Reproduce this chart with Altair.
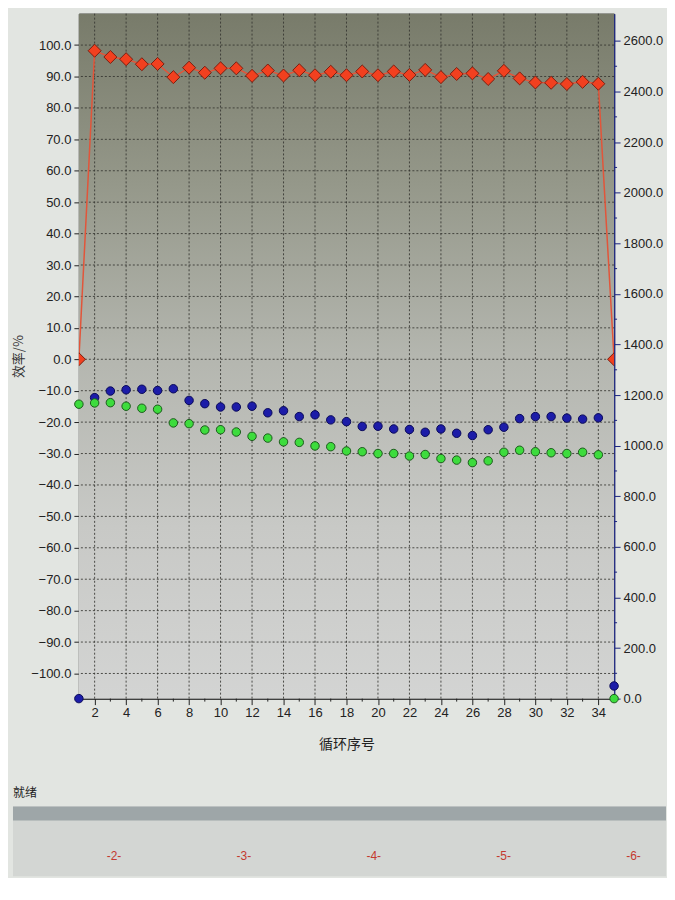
import altair as alt
import pandas as pd

# ---------------- data ----------------
cycles = list(range(1, 36))
efficiency = [0.0, 98.2, 96.2, 95.5, 93.9, 94.0, 89.8, 92.8, 91.2, 92.6,
              92.6, 90.2, 91.9, 90.3, 92.0, 90.4, 91.5, 90.4, 91.6, 90.4,
              91.6, 90.5, 92.1, 89.8, 90.8, 91.0, 89.2, 91.8, 89.4, 88.1,
              88.0, 87.6, 88.3, 87.7, 0.0]
charge_cap = [0, 1190, 1216, 1221, 1223, 1218, 1225, 1179, 1166, 1153,
              1153, 1156, 1130, 1138, 1115, 1122, 1102, 1095, 1076, 1077,
              1066, 1064, 1053, 1066, 1049, 1040, 1063, 1073, 1107, 1115,
              1115, 1109, 1105, 1110, 50]
discharge_cap = [1164, 1169, 1170, 1156, 1148, 1144, 1090, 1087, 1062, 1063,
                 1054, 1037, 1030, 1015, 1013, 999, 996, 979, 976, 969,
                 969, 959, 965, 949, 943, 933, 940, 974, 982, 976,
                 972, 969, 974, 964, 0]

x_labels = list(range(2, 35, 2))          # labelled x ticks / vertical grid
x_minor = list(range(3, 35, 2))           # small unlabelled x ticks
eff_ticks = list(range(-100, 101, 10))    # left axis ticks / horizontal grid
cap_ticks = list(range(0, 2601, 200))     # right axis labelled ticks
cap_minor = list(range(100, 2601, 200))   # right axis small ticks

tabs = ["-2-", "-3-", "-4-", "-5-", "-6-"]
tab_no = [2, 3, 4, 5, 6]
status_text = "就绪"

# ---------------- tables ----------------
df = pd.DataFrame({"cycle": cycles, "eff": efficiency,
                   "charge": charge_cap, "discharge": discharge_cap})
one = pd.DataFrame({"a": [0]})

W, H = 536, 686
SW, SH = 588, 70
LEFT_EXT = 66
LAT = "Liberation Sans"
CJK = "Noto Sans CJK SC"

xs = alt.Scale(domain=[1, 35], nice=False, zero=False)
ys_eff = alt.Scale(domain=[-108, 110], nice=False, zero=False)
ys_cap = alt.Scale(domain=[0, 2708], nice=False, zero=False)

x_axis = alt.Axis(values=x_labels, format="d", grid=False, tickSize=6,
                  tickColor="#222", domainColor="#222", labelColor="#222",
                  labelFont=LAT, labelFontSize=13, labelPadding=2,
                  title="循环序号", titleFont=CJK, titleFontSize=14,
                  titleFontWeight="normal", titleColor="#222", titlePadding=18)
left_axis = alt.Axis(values=eff_ticks, format=".1f", grid=False, tickSize=5,
                     tickColor="#222", domainColor="#222", labelColor="#222",
                     labelFont=LAT, labelFontSize=13, labelPadding=3,
                     title="效率/%", titleFont=CJK, titleFontSize=13,
                     titleFontWeight="normal", titleColor="#333",
                     titlePadding=5)
right_axis = alt.Axis(orient="right", values=cap_ticks, format=".1f",
                      grid=False, tickSize=6, tickColor="#1a237e",
                      domainColor="#1a237e", domainWidth=1.5,
                      labelColor="#222", labelFont=LAT, labelFontSize=13,
                      labelPadding=3, title="")

bg = alt.Chart(one).mark_rect(
    color=alt.LinearGradient(
        gradient="linear", x1=0, x2=0, y1=0, y2=1,
        stops=[alt.GradientStop(offset=0, color="#787b6a"),
               alt.GradientStop(offset=0.25, color="#95988a"),
               alt.GradientStop(offset=0.5, color="#b4b6af"),
               alt.GradientStop(offset=0.75, color="#c8c9c6"),
               alt.GradientStop(offset=1, color="#d3d4d3")])
).encode(x=alt.value(0), x2=alt.value(W), y=alt.value(0), y2=alt.value(H))

hgrid = alt.Chart(pd.DataFrame({"eff": eff_ticks})).mark_rule(
    color="#34342f", strokeDash=[2, 2], strokeWidth=1, opacity=0.85
).encode(y=alt.Y("eff:Q", scale=ys_eff, axis=left_axis))

vgrid = alt.Chart(pd.DataFrame({"cycle": x_labels})).mark_rule(
    color="#34342f", strokeDash=[2, 2], strokeWidth=1, opacity=0.85
).encode(x=alt.X("cycle:Q", scale=xs, axis=x_axis))

xminor = alt.Chart(pd.DataFrame({"cycle": x_minor})).mark_rule(
    color="#222", strokeWidth=1
).encode(x=alt.X("cycle:Q", scale=xs, axis=x_axis),
         y=alt.value(H), y2=alt.value(H + 3))

red_line = alt.Chart(df).mark_line(color="#e2553a", strokeWidth=1.5, clip=True).encode(
    x=alt.X("cycle:Q", scale=xs, axis=x_axis),
    y=alt.Y("eff:Q", scale=ys_eff, axis=left_axis))

red_pts = alt.Chart(df).mark_point(
    shape="diamond", filled=True, size=170, fill="#f2401f",
    stroke="#7a1e10", strokeWidth=1, opacity=1, clip=True
).encode(x=alt.X("cycle:Q", scale=xs, axis=x_axis),
         y=alt.Y("eff:Q", scale=ys_eff, axis=left_axis))

blue_pts = alt.Chart(df).transform_calculate(cap="datum.charge").mark_point(
    shape="circle", filled=True, size=72, fill="#1c1ca8",
    stroke="#0a0a58", strokeWidth=1, opacity=1
).encode(x=alt.X("cycle:Q", scale=xs, axis=x_axis),
         y=alt.Y("cap:Q", scale=ys_cap, axis=right_axis))

green_pts = alt.Chart(df).transform_calculate(cap="datum.discharge").mark_point(
    shape="circle", filled=True, size=72, fill="#3ddc3d",
    stroke="#1c5a1c", strokeWidth=1, opacity=1
).encode(x=alt.X("cycle:Q", scale=xs, axis=x_axis),
         y=alt.Y("cap:Q", scale=ys_cap, axis=right_axis))

yminor = alt.Chart(pd.DataFrame({"cap": cap_minor})).mark_rule(
    color="#1a237e", strokeWidth=1
).encode(y=alt.Y("cap:Q", scale=ys_cap, axis=right_axis),
         x=alt.value(W), x2=alt.value(W + 3))

left_group = alt.layer(bg, hgrid, vgrid, xminor, red_line, red_pts)
right_group = alt.layer(blue_pts, green_pts, yminor)

main = alt.layer(left_group, right_group).resolve_scale(y="independent").properties(
    width=W, height=H,
    view=alt.ViewBackground(stroke="#2a2a2a", strokeWidth=1))

# ---------------- status bar / tabs strip ----------------
tab_area = alt.Chart(one).mark_rect(color="#d3d6d3").encode(
    x=alt.value(-LEFT_EXT), x2=alt.value(SW), y=alt.value(0), y2=alt.value(SH))
band = alt.Chart(one).mark_rect(color="#9ea6a8").encode(
    x=alt.value(-LEFT_EXT), x2=alt.value(SW), y=alt.value(0), y2=alt.value(14))

tab_text = alt.Chart(pd.DataFrame({"tab": tabs, "n": tab_no})).mark_text(
    color="#c43a30", font=LAT, fontSize=12
).encode(x=alt.X("n:Q", scale=alt.Scale(domain=[1.73, 6.25], nice=False, zero=False), axis=None),
         y=alt.value(50), text="tab:N")

strip = alt.layer(tab_area, band, tab_text).properties(
    width=SW, height=SH,
    title=alt.TitleParams(status_text, anchor="start", font=CJK, fontSize=12,
                          fontWeight="normal", color="#222", offset=6),
    view=alt.ViewBackground(stroke="transparent"))

chart = alt.vconcat(main, strip, spacing=34).properties(
    padding={"left": 4, "top": 4, "right": 0, "bottom": 0},
    background="#e2e5e1")

chart.save("out.html", embed_options={"renderer": "svg", "actions": False})
